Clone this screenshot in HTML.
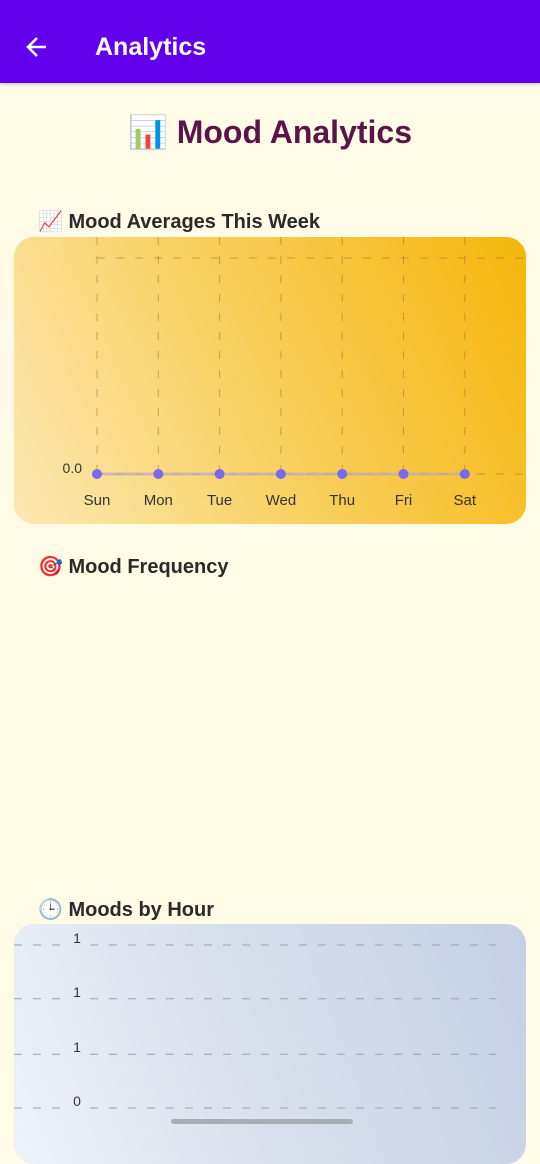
<!DOCTYPE html>
<html><head><meta charset="utf-8"><style>
body{margin:0;width:540px;height:1131px;overflow:hidden;background:#fffbe6;font-family:"Liberation Sans","Noto Sans CJK SC",sans-serif;position:relative}
.abs{position:absolute}
</style></head><body>
<div class="abs" style="left:0;top:0;width:540px;height:83px;background:#6200ee;box-shadow:0 1px 3px rgba(0,0,0,.25)">
 <svg class="abs" style="left:24px;top:35px" width="26" height="24" viewBox="0 0 26 24"><path d="M22 12H4M13 3L4 12l9 9" stroke="#fff" stroke-width="2.6" fill="none"/></svg>
 <div class="abs" style="left:95px;top:33px;color:#fff;font-size:25px;font-weight:bold">Analytics</div>
</div>
<div class="abs" style="left:0;width:540px;top:113px;text-align:center;font-size:32px;font-weight:bold;color:#5a1548">📊 Mood Analytics</div>
<div class="abs" style="left:38px;top:209px;font-size:20px;font-weight:bold;color:#2a2a2a">📈 Mood Averages This Week</div>
<div class="abs" style="left:14px;top:237px;width:512px;height:287px;border-radius:20px;background:linear-gradient(65deg,#fbe8b4 0%,#f9d36a 40%,#f5b50a 100%)"></div>
<svg class="abs" id="wk" style="left:0;top:0" width="540" height="540"></svg>
<div class="abs" style="left:38px;top:554px;font-size:20px;font-weight:bold;color:#2a2a2a">🎯 Mood Frequency</div>
<div class="abs" style="left:38px;top:897px;font-size:20px;font-weight:bold;color:#2a2a2a">🕒 Moods by Hour</div>
<div class="abs" style="left:14px;top:924px;width:512px;height:240px;border-radius:20px;background:linear-gradient(70deg,#eef2f9 0%,#d6deeb 50%,#c4d0e3 100%)"></div>
<svg class="abs" id="hr" style="left:0;top:900px" width="540" height="231"></svg>
<div class="abs" style="left:171px;top:1119px;width:182px;height:5px;border-radius:3px;background:#a9aeb6"></div>
<script>
const days=["Sun","Mon","Tue","Wed","Thu","Fri","Sat"];
const moodAvg=[0,0,0,0,0,0,0];
const wkTicks=["0.0"];
const hrTicks=["1","1","1","0"];
const hrVals=[1,0.67,0.33,0];
const NS="http://www.w3.org/2000/svg";
function mk(p,t,a){const e=document.createElementNS(NS,t);for(const k in a)e.setAttribute(k,a[k]);p.appendChild(e);return e;}
const wk=document.getElementById('wk');
const x0=97,dx=61.3,yTop=258,yBot=474,yMax=1;
const xs=i=>x0+i*dx, ys=v=>yBot-(v/yMax)*(yBot-yTop);
const dash={stroke:"#8a7030","stroke-opacity":"0.5","stroke-width":"1","stroke-dasharray":"8 11"};
days.forEach((d,i)=>{
 const l=mk(wk,'line',Object.assign({x1:xs(i),x2:xs(i),y1:237,y2:470},dash));
 
 
 const t=mk(wk,'text',{x:xs(i),y:505,"text-anchor":"middle","font-size":"15",fill:"#333"});t.textContent=d;
 
 
});
[yTop,yBot].forEach(y=>{const l=mk(wk,'line',Object.assign({x1:x0,x2:526,y1:y,y2:y},dash));
 
 });
wkTicks.forEach((s,i)=>{const t=mk(wk,'text',{x:82,y:ys(0)-1,"text-anchor":"end","font-size":"14",fill:"#333"});t.textContent=s;
 
 });
const pts=moodAvg.map((v,i)=>xs(i)+","+ys(v)).join(" ");
const pl=mk(wk,'polyline',{points:pts,fill:"none",stroke:"#c0a8b8","stroke-width":"3","stroke-opacity":"0.7"});


moodAvg.forEach((v,i)=>{const c=mk(wk,'circle',{cx:xs(i),cy:ys(v),r:5,fill:"#7b68ee"});
 
 });
const hr=document.getElementById('hr');
const hy=v=>1108-900-v*(1108-945);
hrVals.forEach((v,i)=>{
 const hd={stroke:"#9aa2b0","stroke-width":"1","stroke-dasharray":"8 11",y1:hy(v),y2:hy(v)};
 const l1=mk(hr,'line',Object.assign({x1:14,x2:64},hd));
 
 
 const l2=mk(hr,'line',Object.assign({x1:90,x2:496},hd));
 
 
 const t=mk(hr,'text',{x:77,y:hy(v)-2,"text-anchor":"middle","font-size":"14",fill:"#333"});t.textContent=hrTicks[i];
 
 
});
</script>
</body></html>
